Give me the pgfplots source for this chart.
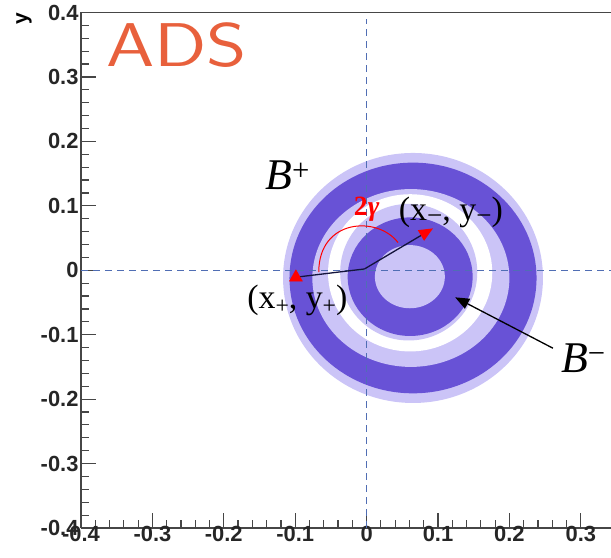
\documentclass[border=0pt]{standalone}
\usepackage{pgfplots}
\pgfplotsset{compat=1.18}
\usepackage{fontspec}
\setmainfont{Liberation Sans}
\newfontfamily\seriff{Liberation Serif}
\usetikzlibrary{calc,arrows.meta}
\definecolor{ringdark}{RGB}{104,82,214}
\definecolor{ringlight}{RGB}{203,196,247}
\definecolor{dashblue}{RGB}{80,110,180}
\definecolor{adsorange}{RGB}{232,96,60}
\definecolor{framegray}{RGB}{70,70,70}
\definecolor{navy}{RGB}{20,20,60}

\begin{document}
\begin{tikzpicture}
\begin{axis}[
  name=ax,
  scale only axis, width=530bp, height=515.5bp,
  xmin=-0.4, xmax=0.3423, ymin=-0.4, ymax=0.4,
  axis x line*=box, axis y line*=left,
  xtick pos=left, ytick pos=left,
  xtick={-0.4,-0.3,-0.2,-0.1,0,0.1,0.2,0.3},
  xticklabels={-0.4,-0.3,-0.2,-0.1,0,0.1,0.2,0.3},
  ytick={-0.4,-0.3,-0.2,-0.1,0,0.1,0.2,0.3,0.4},
  yticklabels={-0.4,-0.3,-0.2,-0.1,0,0.1,0.2,0.3,0.4},
  minor tick num=4,
  tick align=inside,
  major tick length=15bp, minor tick length=8bp,
  every tick/.style={framegray, line width=1.2bp},
  axis line style={framegray, line width=1.3bp},
  tick label style={font=\bfseries\fontsize{22}{22}\selectfont, text=black!85},
  xticklabel style={yshift=5bp},
  yticklabel style={xshift=1bp},
  clip=false,
]
% rings (outer to inner)
\fill[ringlight] (axis cs:0.065,-0.012) ellipse [x radius=0.182, y radius=0.194];
\fill[ringdark]  (axis cs:0.065,-0.012) ellipse [x radius=0.173, y radius=0.179];
\fill[ringlight] (axis cs:0.062,-0.012) ellipse [x radius=0.138, y radius=0.138];
\fill[white]     (axis cs:0.061,-0.004) ellipse [x radius=0.115, y radius=0.122];
\fill[ringlight] (axis cs:0.059,-0.003) ellipse [x radius=0.096, y radius=0.106];
\fill[ringdark]  (axis cs:0.061,-0.010) ellipse [x radius=0.0875, y radius=0.092];
\fill[ringlight] (axis cs:0.0606,-0.010) ellipse [x radius=0.049, y radius=0.049];

% dashed reference lines
\addplot[dashblue, line width=1.1bp, dash pattern=on 7bp off 5bp] coordinates {(-0.4,0) (0.3423,0)};
\addplot[dashblue, line width=1.1bp, dash pattern=on 7bp off 5bp] coordinates {(0,-0.4) (0,0.39)};

% vectors
\addplot[navy, line width=1.3bp] coordinates {(-0.093,-0.010) (-0.003,0.002)};
\addplot[navy, line width=1.3bp, -{Triangle[color=red, fill=red, length=14bp, width=12bp]}] coordinates {(-0.003,0.002) (0.093,0.065)};
\addplot[only marks, mark=triangle*, mark size=7.5bp, color=red, mark options={fill=red, draw=red}] coordinates {(-0.099,-0.011)};

% 2gamma arc
\draw[red, line width=1bp] (axis cs:-0.067,-0.003) .. controls (axis cs:-0.067,0.08) and (axis cs:0.015,0.085) .. (axis cs:0.044,0.043);

% labels
\node[red, font=\seriff\bfseries\fontsize{28}{28}\selectfont] at (axis cs:0.0,0.094) {2\textit{γ}};
\node[font=\seriff\fontsize{34}{34}\selectfont] at (axis cs:0.118,0.090) {(x\raisebox{-0.25ex}{\scalebox{0.8}{−}}, y\raisebox{-0.25ex}{\scalebox{0.8}{−}})};
\node[font=\seriff\fontsize{34}{34}\selectfont] at (axis cs:-0.097,-0.047) {(x\raisebox{-0.3ex}{\scalebox{0.7}{+}}, y\raisebox{-0.3ex}{\scalebox{0.7}{+}})};
\node[anchor=base west, inner sep=0pt, font=\seriff\fontsize{44}{44}\selectfont] at (axis cs:-0.142,0.126) {\textit{B}\textsuperscript{+}};
\node[anchor=base west, inner sep=0pt, font=\seriff\fontsize{44}{44}\selectfont] at (axis cs:0.272,-0.158) {\textit{B}\textsuperscript{−}};
\draw[black, line width=1.3bp, -{Triangle[length=14bp, width=11bp]}] (axis cs:0.261,-0.121) -- (axis cs:0.124,-0.042);

\node[adsorange, font=\sffamily\fontsize{62}{62}\selectfont] at (axis cs:-0.266,0.349) {\scalebox{1.25}[1]{ADS}};
\node[rotate=90, font=\bfseries\fontsize{21}{21}\selectfont] at ($(rel axis cs:0,1)+(-57bp,-6.5bp)$) {y};
\end{axis}
\pgfresetboundingbox
\path ($(ax.south west)+(-81bp,-30bp)$) rectangle ($(ax.north east)+(0bp,12.5bp)$);
\end{tikzpicture}
\end{document}
